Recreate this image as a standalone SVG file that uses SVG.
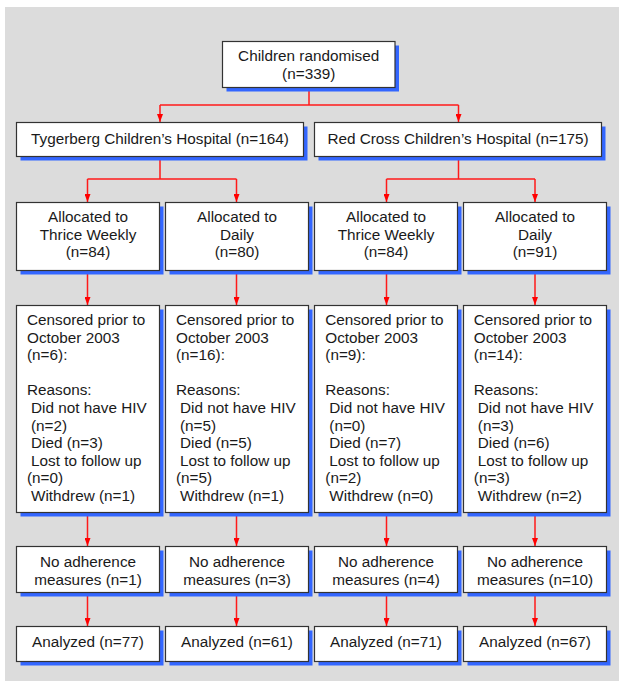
<svg xmlns="http://www.w3.org/2000/svg" width="619" height="681" viewBox="0 0 619 681">
<defs>
<style>
.bg{fill:#dcdcdc}
.sh{fill:#3366ff}
.bx{fill:#ffffff;stroke:#333333;stroke-width:1.2}
text{font-family:"Liberation Sans",Arial,Helvetica,sans-serif;font-size:15.3px;fill:#1a1a1a}
.c{text-anchor:middle}
.ln{fill:none;stroke:#ff1a1a;stroke-width:1.5}
</style>
<marker id="ah" viewBox="0 0 8 6" refX="8" refY="3" markerWidth="8" markerHeight="6" orient="auto" markerUnits="userSpaceOnUse">
<path d="M0,0 L8,3 L0,6 z" fill="#ff0000"/>
</marker>
</defs>
<rect class="bg" x="5" y="7" width="614" height="674"/>

<g id="connectors">
<path class="ln" d="M309,88 V105 M160,105 H458.5"/>
<path class="ln" d="M160,105 V122" marker-end="url(#ah)"/>
<path class="ln" d="M458.5,105 V122" marker-end="url(#ah)"/>
<path class="ln" d="M160,157 V179 M87.5,179 H236.5"/>
<path class="ln" d="M87.5,179 V202" marker-end="url(#ah)"/>
<path class="ln" d="M236.5,179 V202" marker-end="url(#ah)"/>
<path class="ln" d="M458.5,157 V179 M386.5,179 H535"/>
<path class="ln" d="M386.5,179 V202" marker-end="url(#ah)"/>
<path class="ln" d="M535,179 V202" marker-end="url(#ah)"/>
<path class="ln" d="M87.5,271 V305" marker-end="url(#ah)"/>
<path class="ln" d="M236.5,271 V305" marker-end="url(#ah)"/>
<path class="ln" d="M386.5,271 V305" marker-end="url(#ah)"/>
<path class="ln" d="M535,271 V305" marker-end="url(#ah)"/>
<path class="ln" d="M87.5,513 V546" marker-end="url(#ah)"/>
<path class="ln" d="M236.5,513 V546" marker-end="url(#ah)"/>
<path class="ln" d="M386.5,513 V546" marker-end="url(#ah)"/>
<path class="ln" d="M535,513 V546" marker-end="url(#ah)"/>
<path class="ln" d="M87.5,593 V626" marker-end="url(#ah)"/>
<path class="ln" d="M236.5,593 V626" marker-end="url(#ah)"/>
<path class="ln" d="M386.5,593 V626" marker-end="url(#ah)"/>
<path class="ln" d="M535,593 V626" marker-end="url(#ah)"/>
</g>

<g id="n-randomised">
<rect class="sh" x="226.5" y="45.5" width="172.5" height="46"/>
<rect class="bx" x="222.5" y="41.5" width="172.5" height="46"/>
<text class="c" x="308.7" y="61">Children randomised</text>
<text class="c" x="308.7" y="79">(n=339)</text>
</g>

<g id="n-tygerberg">
<rect class="sh" x="20.5" y="126.5" width="287" height="34"/>
<rect class="bx" x="16.5" y="122.5" width="287" height="34"/>
<text class="c" x="160" y="143.5">Tygerberg Children’s Hospital (n=164)</text>
</g>

<g id="n-redcross">
<rect class="sh" x="318.5" y="126.5" width="287" height="34"/>
<rect class="bx" x="314.5" y="122.5" width="287" height="34"/>
<text class="c" x="458" y="143.5">Red Cross Children’s Hospital (n=175)</text>
</g>

<g id="n-alloc-1">
<rect class="sh" x="20.5" y="206.5" width="143" height="68"/>
<rect class="bx" x="16.5" y="202.5" width="143" height="68"/>
<text class="c" x="88" y="222">Allocated to</text>
<text class="c" x="88" y="239.6">Thrice Weekly</text>
<text class="c" x="88" y="257.2">(n=84)</text>
</g>
<g id="n-alloc-2">
<rect class="sh" x="169.5" y="206.5" width="143" height="68"/>
<rect class="bx" x="165.5" y="202.5" width="143" height="68"/>
<text class="c" x="237" y="222">Allocated to</text>
<text class="c" x="237" y="239.6">Daily</text>
<text class="c" x="237" y="257.2">(n=80)</text>
</g>
<g id="n-alloc-3">
<rect class="sh" x="318.5" y="206.5" width="143" height="68"/>
<rect class="bx" x="314.5" y="202.5" width="143" height="68"/>
<text class="c" x="386" y="222">Allocated to</text>
<text class="c" x="386" y="239.6">Thrice Weekly</text>
<text class="c" x="386" y="257.2">(n=84)</text>
</g>
<g id="n-alloc-4">
<rect class="sh" x="467.5" y="206.5" width="143" height="68"/>
<rect class="bx" x="463.5" y="202.5" width="143" height="68"/>
<text class="c" x="535" y="222">Allocated to</text>
<text class="c" x="535" y="239.6">Daily</text>
<text class="c" x="535" y="257.2">(n=91)</text>
</g>

<g id="n-cens-1">
<rect class="sh" x="20.5" y="309.5" width="143" height="207"/>
<rect class="bx" x="16.5" y="305.5" width="143" height="207"/>
<text x="27" y="325">Censored prior to</text>
<text x="27" y="342.6">October 2003</text>
<text x="27" y="360.2">(n=6):</text>
<text x="27" y="395.4">Reasons:</text>
<text x="31" y="413">Did not have HIV</text>
<text x="31" y="430.6">(n=2)</text>
<text x="31" y="448.2">Died (n=3)</text>
<text x="31" y="465.8">Lost to follow up</text>
<text x="27" y="483.4">(n=0)</text>
<text x="31" y="501">Withdrew (n=1)</text>
</g>
<g id="n-cens-2">
<rect class="sh" x="169.5" y="309.5" width="143" height="207"/>
<rect class="bx" x="165.5" y="305.5" width="143" height="207"/>
<text x="176" y="325">Censored prior to</text>
<text x="176" y="342.6">October 2003</text>
<text x="176" y="360.2">(n=16):</text>
<text x="176" y="395.4">Reasons:</text>
<text x="180" y="413">Did not have HIV</text>
<text x="180" y="430.6">(n=5)</text>
<text x="180" y="448.2">Died (n=5)</text>
<text x="180" y="465.8">Lost to follow up</text>
<text x="176" y="483.4">(n=5)</text>
<text x="180" y="501">Withdrew (n=1)</text>
</g>
<g id="n-cens-3">
<rect class="sh" x="318.5" y="309.5" width="143" height="207"/>
<rect class="bx" x="314.5" y="305.5" width="143" height="207"/>
<text x="325.3" y="325">Censored prior to</text>
<text x="325.3" y="342.6">October 2003</text>
<text x="325.3" y="360.2">(n=9):</text>
<text x="325.3" y="395.4">Reasons:</text>
<text x="329.3" y="413">Did not have HIV</text>
<text x="329.3" y="430.6">(n=0)</text>
<text x="329.3" y="448.2">Died (n=7)</text>
<text x="329.3" y="465.8">Lost to follow up</text>
<text x="325.3" y="483.4">(n=2)</text>
<text x="329.3" y="501">Withdrew (n=0)</text>
</g>
<g id="n-cens-4">
<rect class="sh" x="467.5" y="309.5" width="143" height="207"/>
<rect class="bx" x="463.5" y="305.5" width="143" height="207"/>
<text x="473.8" y="325">Censored prior to</text>
<text x="473.8" y="342.6">October 2003</text>
<text x="473.8" y="360.2">(n=14):</text>
<text x="473.8" y="395.4">Reasons:</text>
<text x="477.8" y="413">Did not have HIV</text>
<text x="477.8" y="430.6">(n=3)</text>
<text x="477.8" y="448.2">Died (n=6)</text>
<text x="477.8" y="465.8">Lost to follow up</text>
<text x="473.8" y="483.4">(n=3)</text>
<text x="477.8" y="501">Withdrew (n=2)</text>
</g>

<g id="n-noadh-1">
<rect class="sh" x="20.5" y="550.5" width="143" height="46"/>
<rect class="bx" x="16.5" y="546.5" width="143" height="46"/>
<text class="c" x="88" y="566.5">No adherence</text>
<text class="c" x="88" y="584.5">measures (n=1)</text>
</g>
<g id="n-noadh-2">
<rect class="sh" x="169.5" y="550.5" width="143" height="46"/>
<rect class="bx" x="165.5" y="546.5" width="143" height="46"/>
<text class="c" x="237" y="566.5">No adherence</text>
<text class="c" x="237" y="584.5">measures (n=3)</text>
</g>
<g id="n-noadh-3">
<rect class="sh" x="318.5" y="550.5" width="143" height="46"/>
<rect class="bx" x="314.5" y="546.5" width="143" height="46"/>
<text class="c" x="386" y="566.5">No adherence</text>
<text class="c" x="386" y="584.5">measures (n=4)</text>
</g>
<g id="n-noadh-4">
<rect class="sh" x="467.5" y="550.5" width="143" height="46"/>
<rect class="bx" x="463.5" y="546.5" width="143" height="46"/>
<text class="c" x="535" y="566.5">No adherence</text>
<text class="c" x="535" y="584.5">measures (n=10)</text>
</g>

<g id="n-anal-1">
<rect class="sh" x="20.5" y="630.5" width="143" height="35"/>
<rect class="bx" x="16.5" y="626.5" width="143" height="35"/>
<text class="c" x="88" y="647">Analyzed (n=77)</text>
</g>
<g id="n-anal-2">
<rect class="sh" x="169.5" y="630.5" width="143" height="35"/>
<rect class="bx" x="165.5" y="626.5" width="143" height="35"/>
<text class="c" x="237" y="647">Analyzed (n=61)</text>
</g>
<g id="n-anal-3">
<rect class="sh" x="318.5" y="630.5" width="143" height="35"/>
<rect class="bx" x="314.5" y="626.5" width="143" height="35"/>
<text class="c" x="386" y="647">Analyzed (n=71)</text>
</g>
<g id="n-anal-4">
<rect class="sh" x="467.5" y="630.5" width="143" height="35"/>
<rect class="bx" x="463.5" y="626.5" width="143" height="35"/>
<text class="c" x="535" y="647">Analyzed (n=67)</text>
</g>
</svg>
